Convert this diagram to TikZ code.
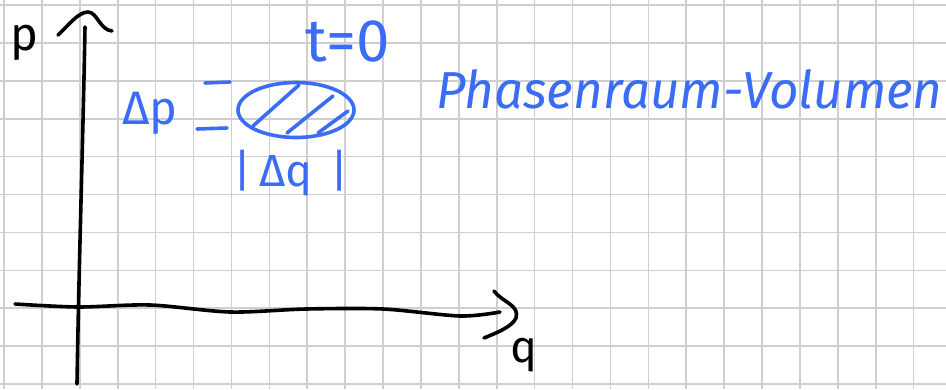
\documentclass[tikz,border=0pt]{standalone}
\usepackage{fontspec}
\setmainfont{Fira Sans}
\usetikzlibrary{shapes.geometric}
\definecolor{ink}{HTML}{3A6CF5}
\definecolor{gridc}{HTML}{CFCFCF}
\begin{document}
\begin{tikzpicture}[x=1pt,y=-1pt,
  gridline/.style={draw=gridc,line width=1.6pt},
  pen/.style={line width=3.6pt,line cap=round,line join=round},
  blackpen/.style={pen,draw=black},
  bluepen/.style={pen,draw=ink},
  handtext/.style={inner sep=0pt,outer sep=0pt,anchor=base west},
]
\useasboundingbox (0,0) rectangle (946,389);
\fill[white] (0,0) rectangle (946,389);
\foreach \i in {0,...,24} \draw[gridline] ({4+37.9*\i},0) -- ({4+37.9*\i},389);
\foreach \j in {0,...,10} \draw[gridline] (0,{5+37.9*\j}) -- (946,{5+37.9*\j});
% p axis
\coordinate (ybot) at (77,384);
\coordinate (ytop) at (85,27);
\draw[blackpen] (ybot) .. controls (79,260) and (83,140) .. (ytop);
\coordinate (yl) at (58,35);
\coordinate (ypeak) at (88,12);
\coordinate (yr) at (112,31);
\draw[blackpen] (yl) .. controls (68,26) and (78,12) .. (ypeak) .. controls (97,12) and (100,30) .. (yr);
% q axis
\draw[blackpen] plot[smooth] coordinates {(15,304) (78,307) (150,305) (230,312) (306,309) (383,309) (460,316) (500,312)};
\coordinate (xt) at (494,291);
\coordinate (xtip) at (516,318);
\coordinate (xb) at (484,338);
\draw[blackpen] (xt) .. controls (502,302) and (520,305) .. (xtip) .. controls (512,327) and (496,333) .. (xb);
% labels
\node[handtext,font=\fontsize{47}{47}\selectfont] (plabel) at (10,50) {p};
\node[handtext,font=\fontsize{45}{45}\selectfont] (qlabel) at (510,362) {q};
\node[handtext,text=ink,font=\fontsize{60}{60}\selectfont] (tlabel) at (305,61) {t=0};
\node[handtext,text=ink,font=\fontsize{47}{47}\selectfont] (dp) at (122,124) {Δp};
\node[handtext,text=ink,font=\fontsize{45}{45}\selectfont] (dq) at (233,186) {|\hspace{8pt}Δq\hspace{18pt}|};
\node[handtext,text=ink,font=\itshape\fontsize{52}{52}\selectfont] (title) at (436,108) {\scalebox{0.985}[1]{Phasenraum-Volumen}};
% phase space blob
\node[draw=ink,line width=3.6pt,ellipse,inner sep=0pt,minimum width=116pt,minimum height=55pt] (blob) at (296,110) {};
\draw[bluepen] (253,126) -- (299,85);
\draw[bluepen] (287,133) -- (333,96);
\draw[bluepen] (318,133) -- (348,111);
\draw[bluepen] (205,83) -- (230,82);
\draw[bluepen] (197,129) -- (227,128);
\end{tikzpicture}
\end{document}
